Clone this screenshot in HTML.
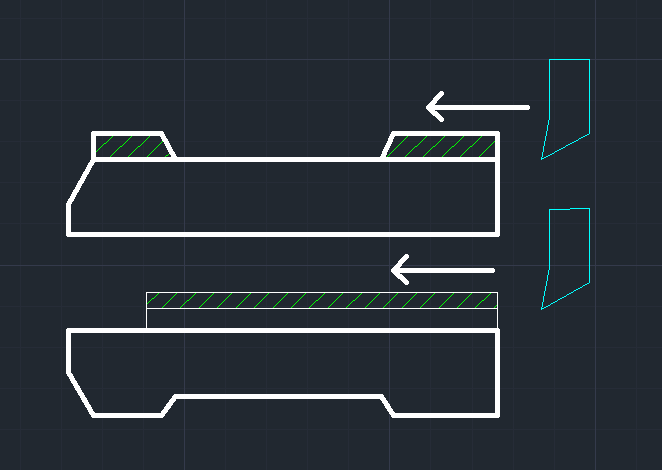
<!DOCTYPE html>
<html>
<head>
<meta charset="utf-8">
<title>CAD drawing</title>
<style>
html,body{margin:0;padding:0;background:#212830;overflow:hidden;}
svg{display:block;}
</style>
</head>
<body>
<svg width="662" height="470" viewBox="0 0 662 470" shape-rendering="crispEdges">
<rect width="662" height="470" fill="#212830"/>
<path id="grid-minor" fill="#262c37" d="M20 0h1v470h-1zM61 0h1v470h-1zM102 0h1v470h-1zM143 0h1v470h-1zM225 0h1v470h-1zM266 0h1v470h-1zM307 0h1v470h-1zM348 0h1v470h-1zM430 0h1v470h-1zM472 0h1v470h-1zM513 0h1v470h-1zM554 0h1v470h-1zM636 0h1v470h-1zM0 18h662v1h-662zM0 100h662v1h-662zM0 141h662v1h-662zM0 182h662v1h-662zM0 223h662v1h-662zM0 306h662v1h-662zM0 347h662v1h-662zM0 388h662v1h-662zM0 429h662v1h-662z"/>
<path id="grid-major" fill="#343a4b" d="M184 0h1v470h-1zM389 0h1v470h-1zM595 0h1v470h-1zM0 59h662v1h-662zM0 265h662v1h-662z"/>
<path id="hatch" fill="#00ff00" d="M112 136h1v1h-1zM131 136h1v1h-1zM149 136h1v1h-1zM407 136h1v1h-1zM426 136h1v1h-1zM444 136h1v1h-1zM463 136h1v1h-1zM481 136h1v1h-1zM111 137h1v1h-1zM130 137h1v1h-1zM148 137h1v1h-1zM406 137h1v1h-1zM425 137h1v1h-1zM443 137h1v1h-1zM462 137h1v1h-1zM480 137h1v1h-1zM110 138h1v1h-1zM129 138h1v1h-1zM147 138h1v1h-1zM405 138h1v1h-1zM424 138h1v1h-1zM442 138h1v1h-1zM461 138h1v1h-1zM479 138h1v1h-1zM109 139h1v1h-1zM128 139h1v1h-1zM146 139h1v1h-1zM404 139h1v1h-1zM423 139h1v1h-1zM441 139h1v1h-1zM460 139h1v1h-1zM478 139h1v1h-1zM108 140h1v1h-1zM127 140h1v1h-1zM145 140h1v1h-1zM403 140h1v1h-1zM422 140h1v1h-1zM440 140h1v1h-1zM459 140h1v1h-1zM477 140h1v1h-1zM107 141h1v1h-1zM126 141h1v1h-1zM144 141h1v1h-1zM162 141h1v1h-1zM402 141h1v1h-1zM421 141h1v1h-1zM439 141h1v1h-1zM458 141h1v1h-1zM476 141h1v1h-1zM494 141h1v1h-1zM106 142h1v1h-1zM125 142h1v1h-1zM143 142h1v1h-1zM161 142h1v1h-1zM401 142h1v1h-1zM420 142h1v1h-1zM438 142h1v1h-1zM457 142h1v1h-1zM475 142h1v1h-1zM493 142h1v1h-1zM104 143h2v1h-2zM124 143h1v1h-1zM142 143h1v1h-1zM160 143h1v1h-1zM400 143h1v1h-1zM419 143h1v1h-1zM437 143h1v1h-1zM456 143h1v1h-1zM474 143h1v1h-1zM492 143h1v1h-1zM103 144h1v1h-1zM123 144h1v1h-1zM141 144h1v1h-1zM159 144h1v1h-1zM399 144h1v1h-1zM418 144h1v1h-1zM436 144h1v1h-1zM455 144h1v1h-1zM473 144h1v1h-1zM491 144h1v1h-1zM102 145h1v1h-1zM122 145h1v1h-1zM140 145h1v1h-1zM158 145h1v1h-1zM398 145h1v1h-1zM417 145h1v1h-1zM435 145h1v1h-1zM454 145h1v1h-1zM472 145h1v1h-1zM490 145h1v1h-1zM101 146h1v1h-1zM120 146h2v1h-2zM138 146h2v1h-2zM157 146h1v1h-1zM397 146h1v1h-1zM415 146h2v1h-2zM433 146h2v1h-2zM452 146h2v1h-2zM470 146h2v1h-2zM489 146h1v1h-1zM100 147h1v1h-1zM119 147h1v1h-1zM137 147h1v1h-1zM156 147h1v1h-1zM396 147h1v1h-1zM414 147h1v1h-1zM432 147h1v1h-1zM451 147h1v1h-1zM469 147h1v1h-1zM488 147h1v1h-1zM99 148h1v1h-1zM118 148h1v1h-1zM136 148h1v1h-1zM155 148h1v1h-1zM395 148h1v1h-1zM413 148h1v1h-1zM431 148h1v1h-1zM450 148h1v1h-1zM468 148h1v1h-1zM487 148h1v1h-1zM98 149h1v1h-1zM117 149h1v1h-1zM135 149h1v1h-1zM154 149h1v1h-1zM394 149h1v1h-1zM412 149h1v1h-1zM430 149h1v1h-1zM449 149h1v1h-1zM467 149h1v1h-1zM486 149h1v1h-1zM97 150h1v1h-1zM116 150h1v1h-1zM134 150h1v1h-1zM153 150h1v1h-1zM393 150h1v1h-1zM411 150h1v1h-1zM429 150h1v1h-1zM448 150h1v1h-1zM466 150h1v1h-1zM485 150h1v1h-1zM96 151h1v1h-1zM115 151h1v1h-1zM133 151h1v1h-1zM152 151h1v1h-1zM392 151h1v1h-1zM410 151h1v1h-1zM428 151h1v1h-1zM447 151h1v1h-1zM465 151h1v1h-1zM484 151h1v1h-1zM114 152h1v1h-1zM132 152h1v1h-1zM151 152h1v1h-1zM391 152h1v1h-1zM409 152h1v1h-1zM427 152h1v1h-1zM446 152h1v1h-1zM464 152h1v1h-1zM483 152h1v1h-1zM113 153h1v1h-1zM131 153h1v1h-1zM150 153h1v1h-1zM390 153h1v1h-1zM408 153h1v1h-1zM426 153h1v1h-1zM445 153h1v1h-1zM463 153h1v1h-1zM482 153h1v1h-1zM112 154h1v1h-1zM130 154h1v1h-1zM149 154h1v1h-1zM168 154h1v1h-1zM389 154h1v1h-1zM407 154h1v1h-1zM425 154h1v1h-1zM444 154h1v1h-1zM462 154h1v1h-1zM481 154h1v1h-1zM111 155h1v1h-1zM129 155h1v1h-1zM148 155h1v1h-1zM166 155h2v1h-2zM388 155h1v1h-1zM406 155h1v1h-1zM424 155h1v1h-1zM443 155h1v1h-1zM461 155h1v1h-1zM480 155h1v1h-1zM110 156h1v1h-1zM128 156h1v1h-1zM147 156h1v1h-1zM165 156h1v1h-1zM387 156h1v1h-1zM405 156h1v1h-1zM423 156h1v1h-1zM442 156h1v1h-1zM460 156h1v1h-1zM479 156h1v1h-1zM158 293h1v1h-1zM176 293h1v1h-1zM195 293h1v1h-1zM213 293h1v1h-1zM231 293h1v1h-1zM250 293h1v1h-1zM268 293h1v1h-1zM287 293h1v1h-1zM305 293h1v1h-1zM324 293h1v1h-1zM342 293h1v1h-1zM361 293h1v1h-1zM379 293h1v1h-1zM397 293h1v1h-1zM416 293h1v1h-1zM434 293h1v1h-1zM453 293h1v1h-1zM471 293h1v1h-1zM490 293h1v1h-1zM157 294h1v1h-1zM175 294h1v1h-1zM194 294h1v1h-1zM212 294h1v1h-1zM230 294h1v1h-1zM249 294h1v1h-1zM267 294h1v1h-1zM286 294h1v1h-1zM304 294h1v1h-1zM323 294h1v1h-1zM341 294h1v1h-1zM360 294h1v1h-1zM378 294h1v1h-1zM396 294h1v1h-1zM415 294h1v1h-1zM433 294h1v1h-1zM452 294h1v1h-1zM470 294h1v1h-1zM489 294h1v1h-1zM156 295h1v1h-1zM174 295h1v1h-1zM193 295h1v1h-1zM211 295h1v1h-1zM229 295h1v1h-1zM248 295h1v1h-1zM266 295h1v1h-1zM285 295h1v1h-1zM303 295h1v1h-1zM322 295h1v1h-1zM340 295h1v1h-1zM359 295h1v1h-1zM377 295h1v1h-1zM395 295h1v1h-1zM414 295h1v1h-1zM432 295h1v1h-1zM451 295h1v1h-1zM469 295h1v1h-1zM488 295h1v1h-1zM155 296h1v1h-1zM173 296h1v1h-1zM192 296h1v1h-1zM210 296h1v1h-1zM228 296h1v1h-1zM247 296h1v1h-1zM265 296h1v1h-1zM284 296h1v1h-1zM302 296h1v1h-1zM321 296h1v1h-1zM339 296h1v1h-1zM358 296h1v1h-1zM376 296h1v1h-1zM394 296h1v1h-1zM413 296h1v1h-1zM431 296h1v1h-1zM450 296h1v1h-1zM468 296h1v1h-1zM487 296h1v1h-1zM154 297h1v1h-1zM172 297h1v1h-1zM191 297h1v1h-1zM209 297h1v1h-1zM227 297h1v1h-1zM246 297h1v1h-1zM264 297h1v1h-1zM283 297h1v1h-1zM301 297h1v1h-1zM320 297h1v1h-1zM338 297h1v1h-1zM357 297h1v1h-1zM375 297h1v1h-1zM393 297h1v1h-1zM412 297h1v1h-1zM430 297h1v1h-1zM449 297h1v1h-1zM467 297h1v1h-1zM486 297h1v1h-1zM152 298h2v1h-2zM171 298h1v1h-1zM190 298h1v1h-1zM208 298h1v1h-1zM226 298h1v1h-1zM245 298h1v1h-1zM263 298h1v1h-1zM282 298h1v1h-1zM300 298h1v1h-1zM319 298h1v1h-1zM337 298h1v1h-1zM356 298h1v1h-1zM374 298h1v1h-1zM392 298h1v1h-1zM411 298h1v1h-1zM429 298h1v1h-1zM448 298h1v1h-1zM466 298h1v1h-1zM485 298h1v1h-1zM151 299h1v1h-1zM170 299h1v1h-1zM189 299h1v1h-1zM207 299h1v1h-1zM225 299h1v1h-1zM244 299h1v1h-1zM262 299h1v1h-1zM281 299h1v1h-1zM299 299h1v1h-1zM318 299h1v1h-1zM336 299h1v1h-1zM355 299h1v1h-1zM373 299h1v1h-1zM391 299h1v1h-1zM410 299h1v1h-1zM428 299h1v1h-1zM447 299h1v1h-1zM465 299h1v1h-1zM484 299h1v1h-1zM150 300h1v1h-1zM169 300h1v1h-1zM187 300h2v1h-2zM206 300h1v1h-1zM224 300h1v1h-1zM243 300h1v1h-1zM261 300h1v1h-1zM280 300h1v1h-1zM298 300h1v1h-1zM316 300h2v1h-2zM335 300h1v1h-1zM353 300h2v1h-2zM372 300h1v1h-1zM390 300h1v1h-1zM409 300h1v1h-1zM427 300h1v1h-1zM446 300h1v1h-1zM464 300h1v1h-1zM482 300h2v1h-2zM149 301h1v1h-1zM168 301h1v1h-1zM186 301h1v1h-1zM205 301h1v1h-1zM223 301h1v1h-1zM242 301h1v1h-1zM260 301h1v1h-1zM279 301h1v1h-1zM297 301h1v1h-1zM315 301h1v1h-1zM334 301h1v1h-1zM352 301h1v1h-1zM371 301h1v1h-1zM389 301h1v1h-1zM408 301h1v1h-1zM426 301h1v1h-1zM445 301h1v1h-1zM463 301h1v1h-1zM481 301h1v1h-1zM148 302h1v1h-1zM167 302h1v1h-1zM185 302h1v1h-1zM204 302h1v1h-1zM222 302h1v1h-1zM241 302h1v1h-1zM259 302h1v1h-1zM278 302h1v1h-1zM296 302h1v1h-1zM314 302h1v1h-1zM333 302h1v1h-1zM351 302h1v1h-1zM370 302h1v1h-1zM388 302h1v1h-1zM407 302h1v1h-1zM425 302h1v1h-1zM444 302h1v1h-1zM462 302h1v1h-1zM480 302h1v1h-1zM147 303h1v1h-1zM166 303h1v1h-1zM184 303h1v1h-1zM203 303h1v1h-1zM221 303h1v1h-1zM240 303h1v1h-1zM258 303h1v1h-1zM277 303h1v1h-1zM295 303h1v1h-1zM313 303h1v1h-1zM332 303h1v1h-1zM350 303h1v1h-1zM369 303h1v1h-1zM387 303h1v1h-1zM406 303h1v1h-1zM424 303h1v1h-1zM443 303h1v1h-1zM461 303h1v1h-1zM479 303h1v1h-1zM165 304h1v1h-1zM183 304h1v1h-1zM202 304h1v1h-1zM220 304h1v1h-1zM239 304h1v1h-1zM257 304h1v1h-1zM276 304h1v1h-1zM294 304h1v1h-1zM312 304h1v1h-1zM331 304h1v1h-1zM349 304h1v1h-1zM368 304h1v1h-1zM386 304h1v1h-1zM405 304h1v1h-1zM423 304h1v1h-1zM442 304h1v1h-1zM460 304h1v1h-1zM478 304h1v1h-1zM164 305h1v1h-1zM182 305h1v1h-1zM201 305h1v1h-1zM219 305h1v1h-1zM238 305h1v1h-1zM256 305h1v1h-1zM275 305h1v1h-1zM293 305h1v1h-1zM311 305h1v1h-1zM330 305h1v1h-1zM348 305h1v1h-1zM367 305h1v1h-1zM385 305h1v1h-1zM404 305h1v1h-1zM422 305h1v1h-1zM441 305h1v1h-1zM459 305h1v1h-1zM477 305h1v1h-1zM496 305h1v1h-1zM163 306h1v1h-1zM181 306h1v1h-1zM200 306h1v1h-1zM218 306h1v1h-1zM237 306h1v1h-1zM255 306h1v1h-1zM274 306h1v1h-1zM292 306h1v1h-1zM310 306h1v1h-1zM329 306h1v1h-1zM347 306h1v1h-1zM366 306h1v1h-1zM384 306h1v1h-1zM403 306h1v1h-1zM421 306h1v1h-1zM440 306h1v1h-1zM458 306h1v1h-1zM476 306h1v1h-1zM495 306h1v1h-1zM162 307h1v1h-1zM180 307h1v1h-1zM199 307h1v1h-1zM217 307h1v1h-1zM236 307h1v1h-1zM254 307h1v1h-1zM273 307h1v1h-1zM291 307h1v1h-1zM309 307h1v1h-1zM328 307h1v1h-1zM346 307h1v1h-1zM365 307h1v1h-1zM383 307h1v1h-1zM402 307h1v1h-1zM420 307h1v1h-1zM439 307h1v1h-1zM457 307h1v1h-1zM475 307h1v1h-1zM494 307h1v1h-1z"/>
<path id="outline" fill="#ffffff" d="M440 91h3v1h-3zM439 92h5v1h-5zM438 93h6v1h-6zM437 94h7v1h-7zM436 95h7v1h-7zM435 96h7v1h-7zM434 97h7v1h-7zM433 98h7v1h-7zM433 99h6v1h-6zM432 100h6v1h-6zM431 101h6v1h-6zM430 102h7v1h-7zM429 103h7v1h-7zM428 104h7v1h-7zM427 105h102v1h-102zM426 106h104v3h-104zM427 109h102v1h-102zM428 110h7v1h-7zM429 111h8v1h-8zM430 112h8v1h-8zM431 113h8v1h-8zM432 114h8v1h-8zM433 115h8v1h-8zM435 116h7v1h-7zM436 117h7v1h-7zM437 118h7v1h-7zM438 119h6v1h-6zM439 120h5v1h-5zM440 121h3v1h-3zM92 131h71v1h-71zM392 131h107v1h-107zM91 132h73v2h-73zM391 132h109v2h-109zM91 134h74v2h-74zM390 134h110v2h-110zM160 136h6v1h-6zM389 136h6v1h-6zM161 137h5v1h-5zM389 137h5v1h-5zM161 138h6v1h-6zM388 138h6v1h-6zM162 139h6v2h-6zM388 139h5v2h-5zM163 141h6v1h-6zM387 141h6v1h-6zM164 142h5v1h-5zM387 142h5v1h-5zM164 143h6v1h-6zM386 143h6v1h-6zM165 144h5v1h-5zM386 144h5v1h-5zM165 145h6v1h-6zM385 145h6v1h-6zM166 146h5v1h-5zM385 146h5v1h-5zM166 147h6v1h-6zM384 147h6v1h-6zM167 148h5v1h-5zM384 148h5v1h-5zM167 149h6v1h-6zM383 149h6v1h-6zM168 150h5v1h-5zM383 150h5v1h-5zM168 151h6v1h-6zM382 151h6v1h-6zM169 152h6v2h-6zM382 152h5v2h-5zM170 154h6v1h-6zM381 154h6v1h-6zM171 155h5v1h-5zM381 155h5v1h-5zM91 136h5v21h-5zM171 156h6v1h-6zM380 156h6v1h-6zM495 136h5v21h-5zM91 157h409v3h-409zM90 160h410v2h-410zM89 162h6v1h-6zM88 163h6v2h-6zM87 165h6v1h-6zM87 166h5v1h-5zM86 167h6v1h-6zM86 168h5v1h-5zM85 169h6v1h-6zM85 170h5v1h-5zM84 171h6v1h-6zM83 172h6v2h-6zM82 174h6v1h-6zM82 175h5v1h-5zM81 176h6v1h-6zM81 177h5v1h-5zM80 178h6v1h-6zM80 179h5v1h-5zM79 180h6v1h-6zM78 181h6v2h-6zM77 183h6v1h-6zM77 184h5v1h-5zM76 185h6v1h-6zM76 186h5v1h-5zM75 187h6v1h-6zM75 188h5v1h-5zM74 189h6v1h-6zM73 190h6v2h-6zM72 192h6v1h-6zM72 193h5v1h-5zM71 194h6v1h-6zM71 195h5v1h-5zM70 196h6v1h-6zM70 197h5v1h-5zM69 198h6v1h-6zM68 199h6v2h-6zM67 201h6v1h-6zM67 202h5v1h-5zM66 203h6v1h-6zM66 204h5v28h-5zM495 162h5v70h-5zM66 232h434v4h-434zM67 236h432v1h-432zM405 254h3v1h-3zM404 255h5v1h-5zM403 256h6v1h-6zM402 257h7v1h-7zM401 258h7v1h-7zM400 259h7v1h-7zM399 260h7v1h-7zM398 261h7v1h-7zM398 262h6v1h-6zM397 263h6v1h-6zM396 264h6v1h-6zM395 265h7v1h-7zM394 266h7v1h-7zM393 267h7v1h-7zM392 268h102v1h-102zM391 269h104v3h-104zM392 272h102v1h-102zM393 273h7v1h-7zM394 274h8v1h-8zM395 275h8v1h-8zM396 276h8v1h-8zM397 277h8v1h-8zM398 278h8v1h-8zM400 279h7v1h-7zM401 280h7v1h-7zM402 281h7v1h-7zM403 282h6v1h-6zM404 283h5v1h-5zM405 284h3v1h-3zM146 292h352v1h-352zM146 293h1v15h-1zM497 293h1v15h-1zM146 308h352v1h-352zM146 309h1v19h-1zM497 309h1v19h-1zM67 328h432v1h-432zM66 329h434v4h-434zM66 333h5v40h-5zM66 373h6v1h-6zM67 374h6v2h-6zM68 376h6v1h-6zM69 377h5v1h-5zM69 378h6v1h-6zM70 379h5v1h-5zM70 380h6v1h-6zM71 381h6v2h-6zM72 383h6v1h-6zM73 384h5v1h-5zM73 385h6v1h-6zM74 386h6v2h-6zM75 388h6v2h-6zM76 390h6v1h-6zM77 391h5v1h-5zM77 392h6v1h-6zM78 393h6v2h-6zM174 394h209v1h-209zM79 395h6v1h-6zM173 395h211v1h-211zM80 396h5v1h-5zM172 396h212v1h-212zM80 397h6v1h-6zM172 397h213v1h-213zM171 398h215v1h-215zM81 398h6v2h-6zM170 399h6v1h-6zM380 399h6v1h-6zM169 400h7v1h-7zM381 400h6v1h-6zM82 400h6v2h-6zM169 401h6v1h-6zM83 402h6v1h-6zM168 402h6v1h-6zM382 401h6v2h-6zM84 403h5v1h-5zM167 403h6v1h-6zM383 403h6v1h-6zM84 404h6v1h-6zM166 404h7v1h-7zM166 405h6v1h-6zM384 404h6v2h-6zM85 405h6v2h-6zM165 406h6v1h-6zM86 407h6v1h-6zM164 407h7v1h-7zM385 406h6v2h-6zM87 408h5v1h-5zM164 408h6v1h-6zM386 408h6v1h-6zM87 409h6v1h-6zM163 409h6v1h-6zM88 410h5v1h-5zM162 410h6v1h-6zM387 409h6v2h-6zM88 411h6v1h-6zM161 411h7v1h-7zM388 411h6v1h-6zM89 412h6v1h-6zM161 412h6v1h-6zM389 412h6v1h-6zM495 333h5v80h-5zM89 413h77v1h-77zM389 413h111v1h-111zM90 414h75v1h-75zM390 414h110v1h-110zM91 415h74v1h-74zM91 416h73v1h-73zM391 415h109v2h-109zM92 417h71v1h-71zM392 417h107v1h-107z"/>
<path id="tools" fill="#00ffff" d="M549 59h41v1h-41zM549 60h1v60h-1zM548 120h1v5h-1zM547 125h1v6h-1zM589 60h1v74h-1zM587 134h2v1h-2zM546 131h1v5h-1zM585 135h2v1h-2zM583 136h2v1h-2zM581 137h2v1h-2zM579 138h2v1h-2zM578 139h1v1h-1zM545 136h1v5h-1zM576 140h2v1h-2zM574 141h2v1h-2zM572 142h2v1h-2zM570 143h2v1h-2zM568 144h2v1h-2zM544 141h1v5h-1zM566 145h2v1h-2zM565 146h1v1h-1zM563 147h2v1h-2zM561 148h2v1h-2zM559 149h2v1h-2zM557 150h2v1h-2zM543 146h1v6h-1zM555 151h2v1h-2zM554 152h1v1h-1zM552 153h2v1h-2zM550 154h2v1h-2zM548 155h2v1h-2zM542 152h1v5h-1zM546 156h2v1h-2zM541 157h1v1h-1zM544 157h2v1h-2zM541 158h3v1h-3zM541 159h1v1h-1zM570 208h20v1h-20zM549 209h21v1h-21zM549 210h1v60h-1zM548 270h1v5h-1zM547 275h1v6h-1zM589 209h1v74h-1zM587 283h2v1h-2zM585 284h2v1h-2zM546 281h1v5h-1zM583 285h2v1h-2zM582 286h1v1h-1zM580 287h2v1h-2zM578 288h2v1h-2zM576 289h2v1h-2zM545 286h1v5h-1zM574 290h2v1h-2zM573 291h1v1h-1zM571 292h2v1h-2zM569 293h2v1h-2zM567 294h2v1h-2zM544 291h1v5h-1zM566 295h1v1h-1zM564 296h2v1h-2zM562 297h2v1h-2zM560 298h2v1h-2zM558 299h2v1h-2zM557 300h1v1h-1zM543 296h1v6h-1zM555 301h2v1h-2zM553 302h2v1h-2zM551 303h2v1h-2zM550 304h1v1h-1zM548 305h2v1h-2zM542 302h1v5h-1zM546 306h2v1h-2zM541 307h1v1h-1zM544 307h2v1h-2zM541 308h3v1h-3zM541 309h1v1h-1z"/>
</svg>
</body>
</html>
